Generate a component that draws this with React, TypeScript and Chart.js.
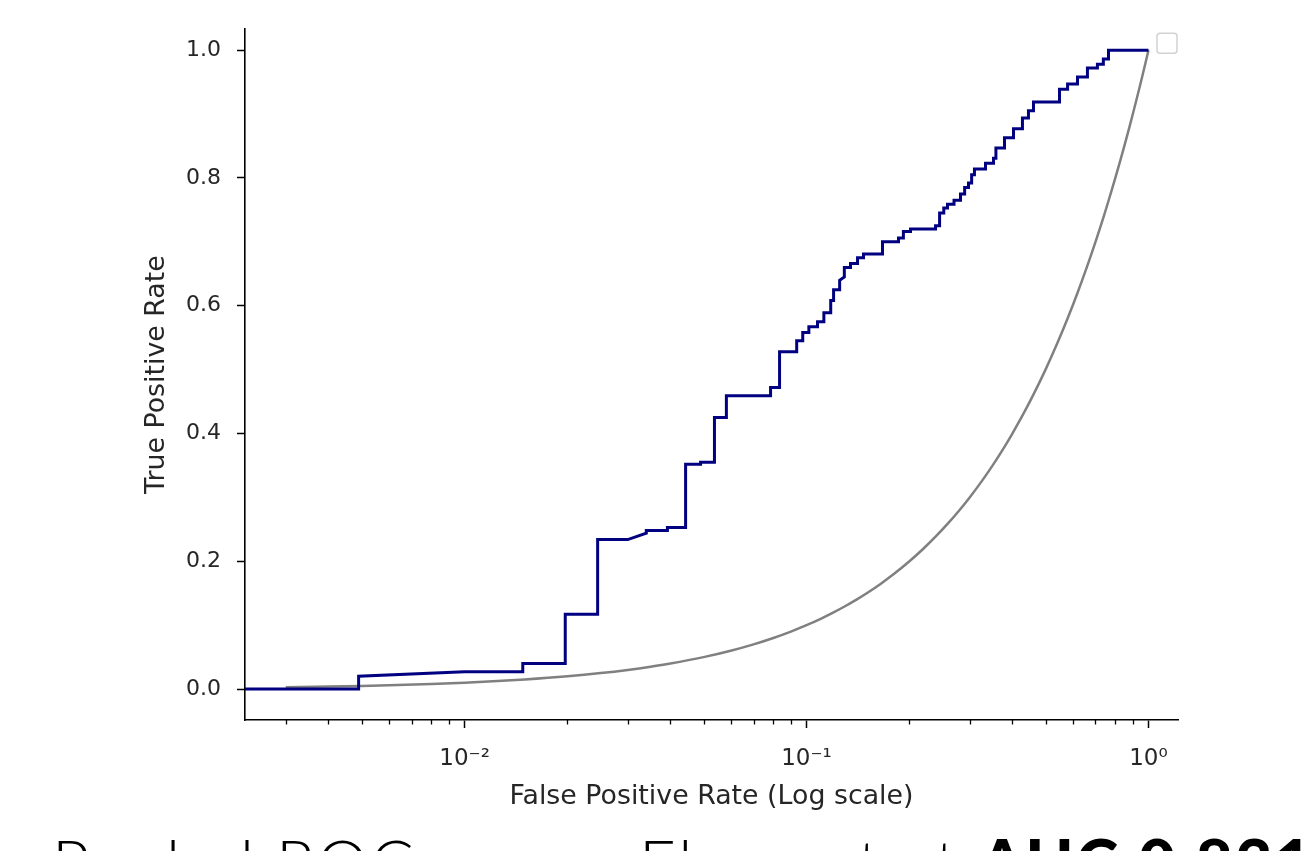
import React, { useEffect, useRef } from 'react';
import { Chart, registerables } from 'chart.js';

Chart.register(...registerables);

// ROC curve corner points (False Positive Rate, True Positive Rate)
const fpr = [
  0.001, 0.0049, 0.0049, 0.01, 0.0148, 0.0148, 0.0197, 0.0197, 0.0245, 0.0245,
  0.03, 0.034, 0.034, 0.0392, 0.0392, 0.0443, 0.0443, 0.049, 0.049, 0.0538,
  0.0538, 0.0583, 0.0583, 0.0785, 0.0785, 0.0834, 0.0834, 0.0936, 0.0936, 0.0975,
  0.0975, 0.1016, 0.1016, 0.1077, 0.1077, 0.1124, 0.1124, 0.1177, 0.1177, 0.12,
  0.12, 0.125, 0.125, 0.129, 0.129, 0.1345, 0.1345, 0.141, 0.141, 0.1468,
  0.1468, 0.1668, 0.1668, 0.1858, 0.1858, 0.192, 0.192, 0.2014, 0.2014, 0.2384,
  0.2384, 0.245, 0.245, 0.252, 0.252, 0.2584, 0.2584, 0.27, 0.27, 0.2821,
  0.2821, 0.29, 0.29, 0.2977, 0.2977, 0.304, 0.304, 0.3098, 0.3098, 0.3338,
  0.3338, 0.3523, 0.3523, 0.358, 0.358, 0.3793, 0.3793, 0.403, 0.403, 0.428,
  0.428, 0.4457, 0.4457, 0.461, 0.461, 0.5494, 0.5494, 0.58, 0.58, 0.62,
  0.62, 0.663, 0.663, 0.709, 0.709, 0.738, 0.738, 0.764, 0.764, 1.0,
];
const tpr = [
  0, 0, 0.02, 0.027, 0.027, 0.04, 0.04, 0.117, 0.117, 0.234,
  0.234, 0.244, 0.248, 0.248, 0.253, 0.253, 0.352, 0.352, 0.355, 0.355,
  0.425, 0.425, 0.459, 0.459, 0.472, 0.472, 0.528, 0.528, 0.545, 0.545,
  0.558, 0.558, 0.567, 0.567, 0.575, 0.575, 0.589, 0.589, 0.608, 0.608,
  0.625, 0.625, 0.64, 0.645, 0.66, 0.66, 0.666, 0.666, 0.675, 0.675,
  0.681, 0.681, 0.7, 0.7, 0.706, 0.706, 0.716, 0.716, 0.72, 0.72,
  0.725, 0.725, 0.745, 0.745, 0.753, 0.753, 0.759, 0.759, 0.765, 0.765,
  0.775, 0.775, 0.785, 0.785, 0.792, 0.792, 0.805, 0.805, 0.814, 0.814,
  0.823, 0.823, 0.831, 0.831, 0.847, 0.847, 0.863, 0.863, 0.877, 0.877,
  0.894, 0.894, 0.905, 0.905, 0.919, 0.919, 0.939, 0.939, 0.947, 0.947,
  0.958, 0.958, 0.972, 0.972, 0.978, 0.978, 0.986, 0.986, 1.0, 1.0,
];

// Chance (diagonal) reference line, sampled points
const chanceX = [
  0.003, 0.004, 0.005, 0.006, 0.008, 0.01, 0.0125, 0.015, 0.02, 0.025,
  0.03, 0.035, 0.04, 0.05, 0.06, 0.07, 0.08, 0.09, 0.1, 0.11,
  0.12, 0.13, 0.14, 0.15, 0.165, 0.18, 0.2, 0.22, 0.24, 0.26,
  0.28, 0.3, 0.32, 0.34, 0.36, 0.38, 0.4, 0.42, 0.44, 0.46,
  0.48, 0.5, 0.52, 0.54, 0.56, 0.58, 0.6, 0.62, 0.64, 0.66,
  0.68, 0.7, 0.72, 0.74, 0.76, 0.78, 0.8, 0.82, 0.84, 0.86,
  0.88, 0.9, 0.92, 0.94, 0.96, 0.98, 1.0,
];
const chanceY = [
  0.003, 0.004, 0.005, 0.006, 0.008, 0.01, 0.0125, 0.015, 0.02, 0.025,
  0.03, 0.035, 0.04, 0.05, 0.06, 0.07, 0.08, 0.09, 0.1, 0.11,
  0.12, 0.13, 0.14, 0.15, 0.165, 0.18, 0.2, 0.22, 0.24, 0.26,
  0.28, 0.3, 0.32, 0.34, 0.36, 0.38, 0.4, 0.42, 0.44, 0.46,
  0.48, 0.5, 0.52, 0.54, 0.56, 0.58, 0.6, 0.62, 0.64, 0.66,
  0.68, 0.7, 0.72, 0.74, 0.76, 0.78, 0.8, 0.82, 0.84, 0.86,
  0.88, 0.9, 0.92, 0.94, 0.96, 0.98, 1.0,
];

const xTickValues = [
  0.003, 0.004, 0.005, 0.006, 0.007, 0.008, 0.009,
  0.01, 0.02, 0.03, 0.04, 0.05, 0.06, 0.07, 0.08, 0.09,
  0.1, 0.2, 0.3, 0.4, 0.5, 0.6, 0.7, 0.8, 0.9,
  1,
];
const xMajorValues = [0.01, 0.1, 1];
const xMajorLabels = ['10\u207B\u00B2', '10\u207B\u00B9', '10\u2070'];
const yTickValues = [0, 0.2, 0.4, 0.6, 0.8, 1.0];
const yTickLabels = ['0.0', '0.2', '0.4', '0.6', '0.8', '1.0'];

const xTitle = 'False Positive Rate (Log scale)';
const yTitle = 'True Positive Rate';
const captionText = 'Pooled ROC curve: Element at ';
const captionBold = 'AUC 0.831';

const TEXT = '#262626';
const FONT = '"DejaVu Sans", sans-serif';

const decorPlugin = {
  id: 'decor',
  afterDraw(chart: any) {
    const ctx = chart.ctx;
    const xs = chart.scales.x;
    const area = chart.chartArea;
    ctx.save();
    ctx.strokeStyle = '#000';
    ctx.lineWidth = 1.3;
    xs.ticks.forEach((t: any) => {
      if (xMajorValues.indexOf(t.value) === -1) {
        const px = Math.round(xs.getPixelForValue(t.value)) + 0.5;
        ctx.beginPath();
        ctx.moveTo(px, area.bottom);
        ctx.lineTo(px, area.bottom + 4.5);
        ctx.stroke();
      }
    });
    // empty legend frame (legend with no entries)
    const lx = area.right - 21;
    const ly = area.top + 4;
    const w = 20;
    const h = 20;
    const r = 3;
    ctx.strokeStyle = '#d2d2d2';
    ctx.lineWidth = 1.5;
    ctx.fillStyle = 'rgba(255,255,255,0.8)';
    ctx.beginPath();
    ctx.moveTo(lx + r, ly);
    ctx.lineTo(lx + w - r, ly);
    ctx.quadraticCurveTo(lx + w, ly, lx + w, ly + r);
    ctx.lineTo(lx + w, ly + h - r);
    ctx.quadraticCurveTo(lx + w, ly + h, lx + w - r, ly + h);
    ctx.lineTo(lx + r, ly + h);
    ctx.quadraticCurveTo(lx, ly + h, lx, ly + h - r);
    ctx.lineTo(lx, ly + r);
    ctx.quadraticCurveTo(lx, ly, lx + r, ly);
    ctx.closePath();
    ctx.fill();
    ctx.stroke();
    ctx.restore();
  },
};

function RocChart() {
  const ref = useRef<HTMLCanvasElement | null>(null);
  useEffect(() => {
    if (!ref.current) return;
    const rocData = fpr.map((x, i) => ({ x, y: tpr[i] }));
    const chanceData = chanceX.map((x, i) => ({ x, y: chanceY[i] }));
    const chart = new Chart(ref.current, {
      type: 'line',
      data: {
        datasets: [
          {
            label: 'ROC',
            data: rocData,
            borderColor: '#000080',
            borderWidth: 3,
            pointRadius: 0,
            tension: 0,
            fill: false,
            borderJoinStyle: 'miter',
          },
          {
            label: 'Chance',
            data: chanceData,
            borderColor: '#808080',
            borderWidth: 2.5,
            pointRadius: 0,
            cubicInterpolationMode: 'monotone',
            fill: false,
          },
        ],
      },
      options: {
        animation: false,
        responsive: true,
        maintainAspectRatio: false,
        events: [],
        layout: { padding: { top: 25, right: 124, left: 0, bottom: 0 } },
        plugins: {
          legend: { display: false },
          tooltip: { enabled: false },
          title: { display: false },
        },
        scales: {
          x: {
            type: 'logarithmic',
            min: 0.00228,
            max: 1.22,
            afterBuildTicks: (scale: any) => {
              scale.ticks = xTickValues.map((v) => ({ value: v, major: xMajorValues.indexOf(v) !== -1 }));
            },
            afterFit: (scale: any) => {
              scale.height = 95;
            },
            ticks: {
              autoSkip: false,
              maxRotation: 0,
              minRotation: 0,
              padding: 17,
              color: TEXT,
              font: { family: FONT, size: 23 },
              callback: (value: any) => {
                const i = xMajorValues.indexOf(Number(value));
                return i === -1 ? '' : xMajorLabels[i];
              },
            },
            grid: {
              display: true,
              drawOnChartArea: false,
              drawTicks: true,
              tickLength: 8,
              tickWidth: 1.5,
              tickColor: (ctx: any) =>
                ctx.tick && xMajorValues.indexOf(ctx.tick.value) !== -1 ? '#000' : 'rgba(0,0,0,0)',
            },
            border: { display: true, color: '#000', width: 1.6 },
            title: {
              display: true,
              text: xTitle,
              color: TEXT,
              font: { family: FONT, size: 26.8 },
              padding: { top: 0, bottom: 2 },
            },
          },
          y: {
            type: 'linear',
            min: -0.0484,
            max: 1.0328,
            afterBuildTicks: (scale: any) => {
              scale.ticks = yTickValues.map((v) => ({ value: v }));
            },
            afterFit: (scale: any) => {
              scale.width = 245;
            },
            ticks: {
              padding: 16,
              color: TEXT,
              font: { family: FONT, size: 22 },
              callback: (value: any) => {
                const i = yTickValues.findIndex((v) => Math.abs(v - Number(value)) < 1e-9);
                return i === -1 ? '' : yTickLabels[i];
              },
            },
            grid: {
              display: true,
              drawOnChartArea: false,
              drawTicks: true,
              tickLength: 8,
              tickWidth: 1.5,
              tickColor: '#000',
            },
            border: { display: true, color: '#000', width: 1.6 },
            title: {
              display: true,
              text: yTitle,
              color: TEXT,
              font: { family: FONT, size: 26.8 },
              padding: { top: 141, bottom: 0 },
            },
          },
        },
      },
      plugins: [decorPlugin],
    } as any);
    return () => chart.destroy();
  }, []);
  return <canvas ref={ref} />;
}

export default function App() {
  return (
    <div
      style={{
        position: 'absolute',
        left: 0,
        top: 0,
        width: 1302,
        height: 851,
        overflow: 'hidden',
        background: '#fff',
      }}
    >
      <div style={{ position: 'absolute', left: 0, top: 0, width: 1302, height: 815 }}>
        <RocChart />
      </div>
      <div
        style={{
          position: 'absolute',
          left: 52,
          top: 830,
          whiteSpace: 'nowrap',
          fontFamily: 'Lato, "Open Sans", sans-serif',
          fontSize: 64,
          lineHeight: 1,
          fontWeight: 300,
          letterSpacing: 2.5,
          color: '#000',
        }}
      >
        {captionText}
        <span style={{ fontWeight: 900 }}>{captionBold}</span>
      </div>
    </div>
  );
}
